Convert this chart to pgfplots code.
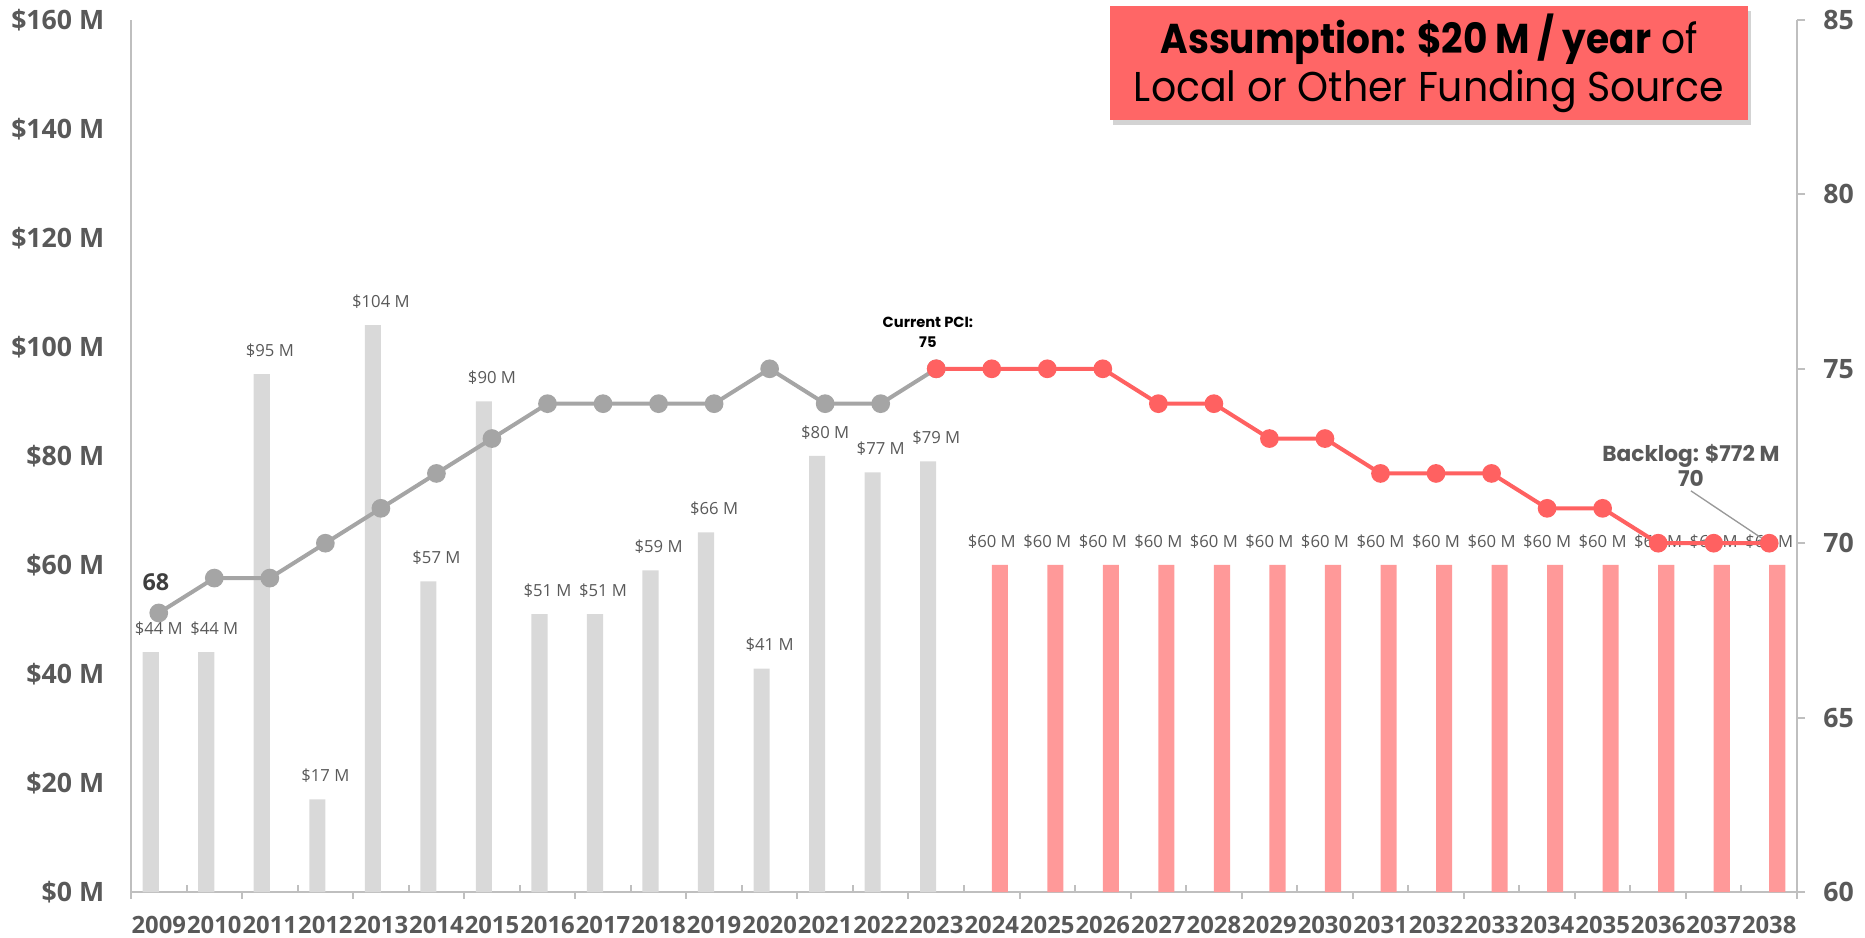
\documentclass[border=0pt]{standalone}
\usepackage{pgfplots}
\pgfplotsset{compat=1.18}
\usepackage{fontspec}
\setmainfont{Open Sans}
\newfontfamily\pop{Poppins}
\usetikzlibrary{shadows}

\definecolor{axisgray}{HTML}{BFBFBF}
\definecolor{labelgray}{HTML}{595959}
\definecolor{histbar}{HTML}{D9D9D9}
\definecolor{projbar}{HTML}{FF9999}
\definecolor{histline}{HTML}{A5A5A5}
\definecolor{projline}{HTML}{FF6161}
\definecolor{boxred}{HTML}{FF6666}

\begin{document}
\begin{tikzpicture}
\useasboundingbox (0,0) rectangle (559.5pt,281.1pt);
\pgfplotsset{
  common/.style={
    at={(39.3pt,13.5pt)}, anchor=south west,
    scale only axis, width=499.8pt, height=261.6pt,
    xmin=-0.5, xmax=29.5, clip=false,
    axis line style={draw=axisgray, line width=0.6pt, -},
    /pgf/number format/assume math mode=true,
  },
  barlabel/.style={
    nodes near coords={\$\pgfmathprintnumber{\pgfplotspointmeta} M},
    every node near coord/.append style={font=\fontsize{5}{6}\selectfont, text=labelgray, yshift=1.5pt},
  },
}
% funding bars on the left axis
\begin{axis}[common,
  ymin=0, ymax=160,
  axis x line*=bottom, axis y line*=left,
  xtick={0,...,29},
  xticklabels={2009,2010,2011,2012,2013,2014,2015,2016,2017,2018,2019,2020,2021,2022,2023,2024,2025,2026,2027,2028,2029,2030,2031,2032,2033,2034,2035,2036,2037,2038},
  minor xtick={-0.5,1.5,...,29.5},
  major tick length=2pt, minor tick length=2pt, tick align=outside,
  major x tick style={draw=none},
  minor x tick style={draw=axisgray, line width=0.6pt},
  extra x ticks={0.5,2.5,...,28.5},
  extra x tick labels={},
  extra x tick style={tick align=inside, major x tick style={draw=axisgray, line width=0.6pt}},
  ytick={0,20,...,160},
  yticklabels={\$0 M,\$20 M,\$40 M,\$60 M,\$80 M,\$100 M,\$120 M,\$140 M,\$160 M},
  ytick style={draw=none},
  xticklabel style={font=\bfseries\fontsize{7.15}{8}\selectfont, text=labelgray, yshift=-1.8pt},
  yticklabel style={font=\bfseries\fontsize{8}{9}\selectfont, text=labelgray, xshift=-2.5pt},
]
\addplot[ybar, bar width=0.29, bar shift=-0.145, fill=histbar, draw=none, barlabel]
  coordinates {(0,44) (1,44) (2,95) (3,17) (4,104) (5,57) (6,90) (7,51) (8,51) (9,59) (10,66) (11,41) (12,80) (13,77) (14,79)};
\addplot[ybar, bar width=0.29, bar shift=0.145, fill=projbar, draw=none, barlabel]
  coordinates {(15,60) (16,60) (17,60) (18,60) (19,60) (20,60) (21,60) (22,60) (23,60) (24,60) (25,60) (26,60) (27,60) (28,60) (29,60)};
\end{axis}
% PCI line on the right axis
\begin{axis}[common,
  ymin=60, ymax=85,
  axis x line=none, axis y line*=right,
  ytick={60,65,...,85},
  major tick length=2.4pt, tick align=outside,
  ytick style={draw=axisgray, line width=0.6pt},
  yticklabel style={font=\bfseries\fontsize{8}{9}\selectfont, text=labelgray, xshift=2pt},
]
\addplot[histline, line width=1.2pt, mark=*, mark size=2.2pt, mark options={fill=histline, draw=histline}]
  coordinates {(0,68) (1,69) (2,69) (3,70) (4,71) (5,72) (6,73) (7,74) (8,74) (9,74) (10,74) (11,75) (12,74) (13,74) (14,75)};
\addplot[projline, line width=1.2pt, mark=*, mark size=2.2pt, mark options={fill=projline, draw=projline}]
  coordinates {(14,75) (15,75) (16,75) (17,75) (18,74) (19,74) (20,73) (21,73) (22,72) (23,72) (24,72) (25,71) (26,71) (27,70) (28,70) (29,70)};
\node[anchor=south, font=\bfseries\fontsize{7}{8}\selectfont, text=labelgray!70!black, yshift=3pt] at (axis cs:-0.05,68) {68};
\node[anchor=south, align=center, font=\pop\bfseries\fontsize{4.4}{6}\selectfont, text=black, yshift=3pt] at (axis cs:13.85,75) {Current PCI:\\75};
\draw[axisgray!80!black, line width=0.4pt] (axis cs:27.59,71.5) -- (axis cs:29,70);
\node[anchor=south, align=center, font=\pop\bfseries\fontsize{6.5}{7.6}\selectfont, text=labelgray, inner sep=1pt] at (axis cs:27.59,71.5) {Backlog: \$772 M\\70};
\end{axis}
% assumption banner
\node[fill=boxred, drop shadow={opacity=0.35, shadow xshift=0.8pt, shadow yshift=-1.4pt},
  minimum width=191.4pt, minimum height=34.2pt, inner sep=0pt, align=center,
  font=\pop\fontsize{12.5}{14.4}\selectfont, text=black]
  at (428.7pt,262.2pt) {\scalebox{0.9}[1]{\textbf{Assumption: \$20 M / year} of}\\\scalebox{0.947}[1]{Local or Other Funding Source}};
\end{tikzpicture}
\end{document}
